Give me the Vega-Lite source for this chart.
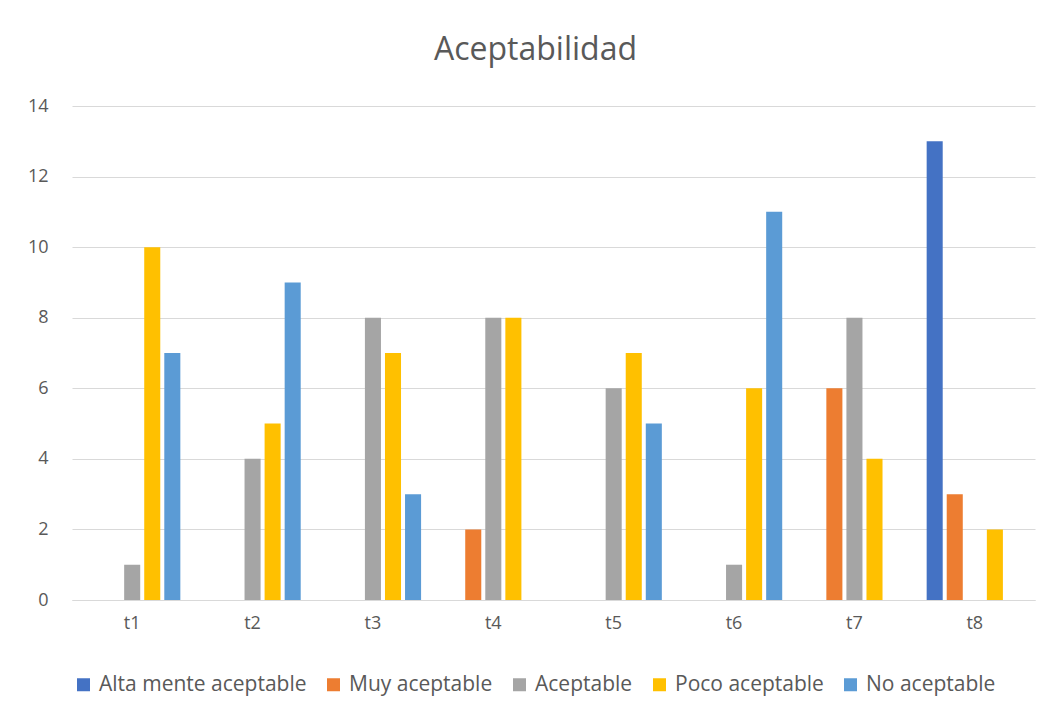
{
  "$schema": "https://vega.github.io/schema/vega-lite/v6.json",
  "width": 963,
  "height": 494,
  "autosize": {"type": "none"},
  "padding": {"left": 72, "top": 106, "right": 16, "bottom": 117},
  "background": "white",
  "title": {"text": "Aceptabilidad", "fontSize": 32, "font": "Open Sans", "fontWeight": "normal", "color": "#595959", "anchor": "middle", "offset": 30, "dx": -18},
  "data": {"values": [
    {"t":"t1","s":"Alta mente aceptable","v":0},{"t":"t1","s":"Muy aceptable","v":0},{"t":"t1","s":"Aceptable","v":1},{"t":"t1","s":"Poco aceptable","v":10},{"t":"t1","s":"No aceptable","v":7},
    {"t":"t2","s":"Alta mente aceptable","v":0},{"t":"t2","s":"Muy aceptable","v":0},{"t":"t2","s":"Aceptable","v":4},{"t":"t2","s":"Poco aceptable","v":5},{"t":"t2","s":"No aceptable","v":9},
    {"t":"t3","s":"Alta mente aceptable","v":0},{"t":"t3","s":"Muy aceptable","v":0},{"t":"t3","s":"Aceptable","v":8},{"t":"t3","s":"Poco aceptable","v":7},{"t":"t3","s":"No aceptable","v":3},
    {"t":"t4","s":"Alta mente aceptable","v":0},{"t":"t4","s":"Muy aceptable","v":2},{"t":"t4","s":"Aceptable","v":8},{"t":"t4","s":"Poco aceptable","v":8},{"t":"t4","s":"No aceptable","v":0},
    {"t":"t5","s":"Alta mente aceptable","v":0},{"t":"t5","s":"Muy aceptable","v":0},{"t":"t5","s":"Aceptable","v":6},{"t":"t5","s":"Poco aceptable","v":7},{"t":"t5","s":"No aceptable","v":5},
    {"t":"t6","s":"Alta mente aceptable","v":0},{"t":"t6","s":"Muy aceptable","v":0},{"t":"t6","s":"Aceptable","v":1},{"t":"t6","s":"Poco aceptable","v":6},{"t":"t6","s":"No aceptable","v":11},
    {"t":"t7","s":"Alta mente aceptable","v":0},{"t":"t7","s":"Muy aceptable","v":6},{"t":"t7","s":"Aceptable","v":8},{"t":"t7","s":"Poco aceptable","v":4},{"t":"t7","s":"No aceptable","v":0},
    {"t":"t8","s":"Alta mente aceptable","v":13},{"t":"t8","s":"Muy aceptable","v":3},{"t":"t8","s":"Aceptable","v":0},{"t":"t8","s":"Poco aceptable","v":2},{"t":"t8","s":"No aceptable","v":0}
  ]},
  "mark": {"type": "bar"},
  "encoding": {
    "x": {"field": "t", "type": "nominal", "title": null,
      "scale": {"paddingInner": 0.2, "paddingOuter": 0.1},
      "axis": {"labelAngle": 0, "labelFontSize": 18, "labelFont": "Open Sans", "labelColor": "#595959", "ticks": false, "domainColor": "#D9D9D9", "domainWidth": 1, "labelPadding": 14, "grid": false}},
    "xOffset": {"field": "s", "type": "nominal",
      "sort": ["Alta mente aceptable","Muy aceptable","Aceptable","Poco aceptable","No aceptable"],
      "scale": {"paddingInner": 0.2}},
    "y": {"field": "v", "type": "quantitative", "title": null,
      "scale": {"domain": [0, 14]},
      "axis": {"values": [0,2,4,6,8,10,12,14], "labelFontSize": 18, "labelFont": "Open Sans", "labelColor": "#595959", "ticks": false, "domain": false, "gridColor": "#D9D9D9", "labelPadding": 24}},
    "color": {"field": "s", "type": "nominal",
      "sort": ["Alta mente aceptable","Muy aceptable","Aceptable","Poco aceptable","No aceptable"],
      "scale": {"domain": ["Alta mente aceptable","Muy aceptable","Aceptable","Poco aceptable","No aceptable"], "range": ["#4472C4","#ED7D31","#A5A5A5","#FFC000","#5B9BD5"]},
      "legend": {"title": null, "orient": "none", "legendX": 1, "legendY": 568, "direction": "horizontal", "columns": 5, "symbolType": "square", "symbolSize": 169, "symbolStrokeWidth": 0, "labelFontSize": 21, "labelFont": "Open Sans", "labelColor": "#595959", "labelLimit": 0, "columnPadding": 16, "labelOffset": 5}}
  },
  "config": {"view": {"stroke": null}}
}
